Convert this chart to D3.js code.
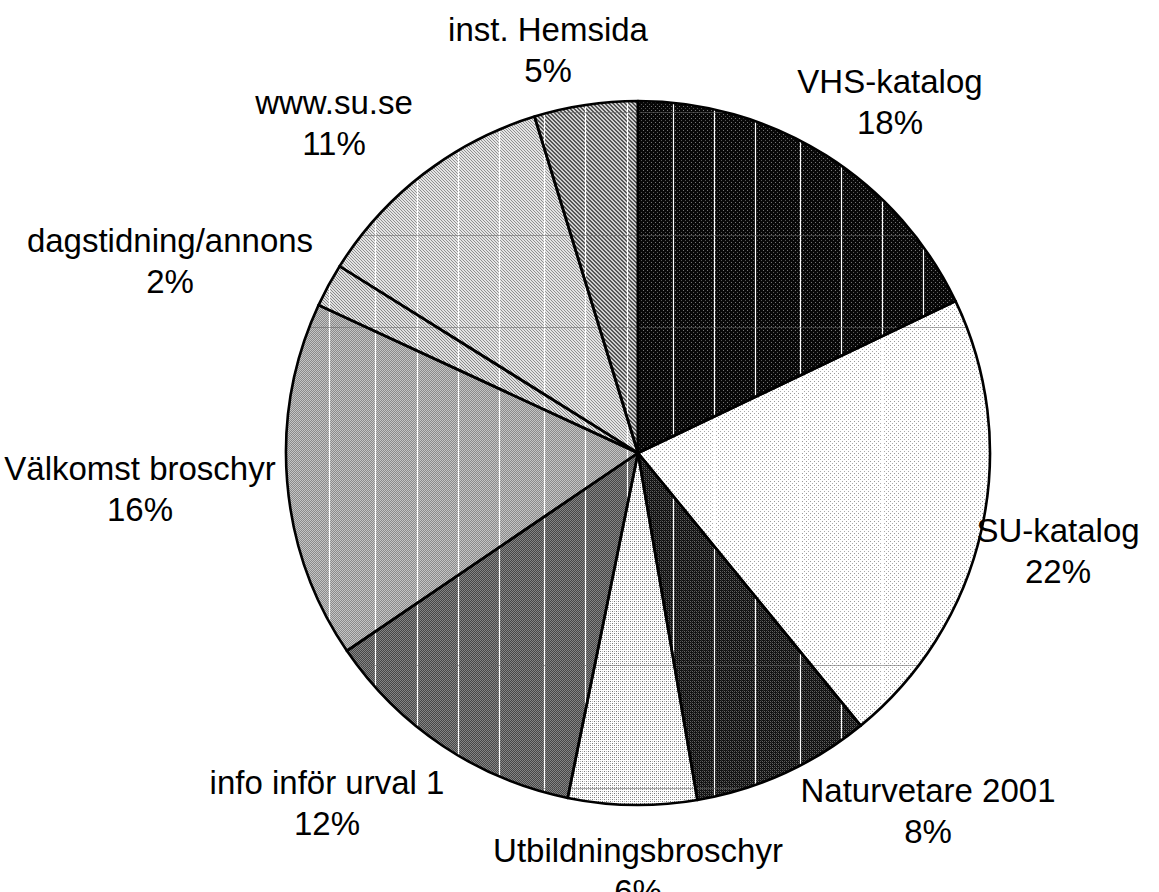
<!DOCTYPE html>
<html>
<head>
<meta charset="utf-8">
<script src="https://cdn.jsdelivr.net/npm/d3@7"></script>
<style>
  body { margin: 0; background: #fff; }
  text { font-family: "Liberation Sans", Arial, sans-serif; fill: #000; }
</style>
</head>
<body>
<div id="chart"></div>
<script>
// categories, clockwise from 12 o'clock
var categories = ["VHS-katalog", "SU-katalog", "Naturvetare 2001", "Utbildningsbroschyr",
                  "info inför urval 1", "Välkomst broschyr", "dagstidning/annons", "www.su.se", "inst. Hemsida"];
// share of answers
var shares = [17.9, 21.2, 8.2, 5.9, 12.3, 16.4, 2.0, 11.35, 4.75];
// percent labels as printed
var pctLabels = ["18%", "22%", "8%", "6%", "12%", "16%", "2%", "11%", "5%"];

var W = 1159, H = 892;
var cx = 638, cy = 453, R = 352;

// label anchors (centre of the two-line label)
var labelPos = [[890, 102], [1058, 551], [928, 811], [638, 871], [327, 803],
                [140, 489], [170, 261], [334, 123], [548, 50]];

// fill patterns: tile size, background, pixels
var fills = [
  {s: 4, bg: "#080808", px: [[1, 1, "#777"], [3, 3, "#555"]]},
  {s: 4, bg: "#ffffff", px: [[0, 0, "#9a9a9a"], [2, 2, "#aaa"]]},
  {s: 4, bg: "#111111", px: [[0, 0, "#666"], [2, 0, "#555"], [0, 2, "#555"], [2, 2, "#666"], [1, 1, "#333"], [3, 3, "#333"]]},
  {s: 4, bg: "#ffffff", px: [[0, 0, "#777"], [2, 2, "#777"], [2, 0, "#bbb"], [0, 2, "#bbb"]]},
  {s: 2, bg: "#858585", px: [[0, 0, "#474747"], [1, 1, "#474747"]]},
  {s: 2, bg: "#c4c4c4", px: [[0, 0, "#8a8a8a"], [1, 1, "#8a8a8a"]]},
  {s: 3, bg: "#e0e0e0", px: [[0, 0, "#888"], [1, 1, "#888"], [2, 2, "#888"]]},
  {s: 3, bg: "#e4e4e4", px: [[0, 0, "#909090"], [1, 1, "#909090"], [2, 2, "#909090"]]},
  {s: 4, bg: "#cfcfcf", px: [[0, 0, "#555"], [1, 1, "#555"], [2, 2, "#555"], [3, 3, "#555"],
                             [1, 0, "#555"], [2, 1, "#555"], [3, 2, "#555"], [0, 3, "#555"]]}
];

// faint seams from the original raster
var seamX = [329, 375, 417, 458, 499, 544, 585, 627, 673, 714, 755, 800, 841, 882, 923];
var seamY = [112, 235, 327, 665, 788];

var svg = d3.select("#chart").append("svg")
    .attr("width", W)
    .attr("height", H);

var defs = svg.append("defs");
fills.forEach(function(f, i) {
  var p = defs.append("pattern")
      .attr("id", "fill" + i)
      .attr("patternUnits", "userSpaceOnUse")
      .attr("width", f.s)
      .attr("height", f.s);
  p.append("rect").attr("width", f.s).attr("height", f.s).attr("fill", f.bg);
  f.px.forEach(function(q) {
    p.append("rect").attr("x", q[0]).attr("y", q[1]).attr("width", 1).attr("height", 1).attr("fill", q[2]);
  });
});
defs.append("clipPath").attr("id", "pieClip")
  .append("circle").attr("cx", cx).attr("cy", cy).attr("r", R);

var pie = d3.pie().sort(null).value(function(d) { return d; });
var arc = d3.arc().innerRadius(0).outerRadius(R);
var arcs = pie(shares);

var g = svg.append("g").attr("transform", "translate(" + cx + "," + cy + ")");

g.selectAll("path.fillslice")
  .data(arcs)
  .enter()
  .append("path")
  .attr("class", "fillslice")
  .attr("d", arc)
  .attr("fill", function(d, i) { return "url(#fill" + i + ")"; })
  .attr("shape-rendering", "crispEdges");

// seams
var seams = svg.append("g").attr("clip-path", "url(#pieClip)");
seams.selectAll("line.v")
  .data(seamX)
  .enter()
  .append("line")
  .attr("class", "v")
  .attr("x1", function(d) { return d + 0.5; })
  .attr("x2", function(d) { return d + 0.5; })
  .attr("y1", cy - R).attr("y2", cy + R)
  .attr("stroke", "#fff").attr("stroke-width", 1.2);
seams.selectAll("line.h")
  .data(seamY)
  .enter()
  .append("line")
  .attr("class", "h")
  .attr("y1", function(d) { return d + 0.5; })
  .attr("y2", function(d) { return d + 0.5; })
  .attr("x1", cx - R).attr("x2", cx + R)
  .attr("stroke", "#666").attr("stroke-opacity", 0.55).attr("stroke-width", 1);

// outlines
svg.append("g").attr("transform", "translate(" + cx + "," + cy + ")")
  .selectAll("path")
  .data(arcs)
  .enter()
  .append("path")
  .attr("d", arc)
  .attr("fill", "none")
  .attr("stroke", "#000")
  .attr("stroke-width", 2.6)
  .attr("stroke-linejoin", "round");

// labels
var lab = svg.selectAll("text.lab")
  .data(categories)
  .enter()
  .append("text")
  .attr("class", "lab")
  .attr("text-anchor", "middle")
  .style("font-size", "33px");
lab.append("tspan")
  .attr("x", function(d, i) { return labelPos[i][0]; })
  .attr("y", function(d, i) { return labelPos[i][1] - 9; })
  .text(function(d) { return d; });
lab.append("tspan")
  .attr("x", function(d, i) { return labelPos[i][0]; })
  .attr("y", function(d, i) { return labelPos[i][1] + 32; })
  .text(function(d, i) { return pctLabels[i]; });
</script>
</body>
</html>
